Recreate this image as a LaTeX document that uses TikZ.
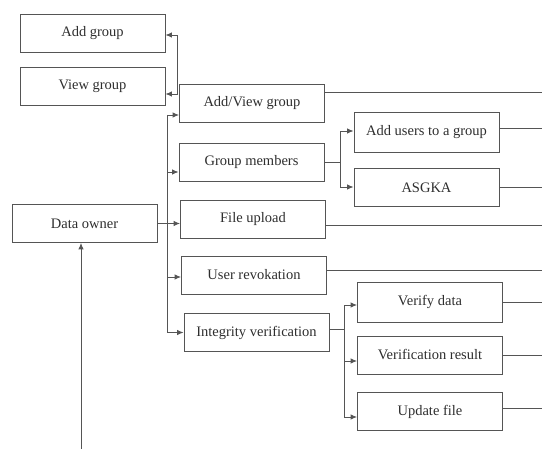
\documentclass[tikz,border=0pt]{standalone}
\usepackage{fontspec}
\setmainfont{Liberation Serif}
\usepackage{xcolor}
\usepackage{tikz}
\usetikzlibrary{calc,arrows.meta}
\definecolor{ink}{HTML}{2E2E2E}
\definecolor{rule}{HTML}{555555}
\tikzset{
  box/.style={draw=rule, line width=0.9pt, minimum width=145pt, minimum height=38pt,
    inner sep=2pt, text=ink, font=\fontsize{14.5}{16}\selectfont},
  link/.style={draw=rule, line width=0.9pt},
  feed/.style={-{Latex[length=6.5pt,width=5.5pt]}, draw=rule, line width=0.9pt}
}

\begin{document}
\begin{tikzpicture}[x=1pt,y=-1pt]
  \useasboundingbox (0,0) rectangle (542,449);
  \coordinate (trunk) at (167,0);
  \coordinate (edge) at (542,0);
  \coordinate (src) at (81,449);

  % left column
  \node[box] (ag) at (92.5,33) {Add group};
  \node[box] (vg) at (92.5,86.5) {View group};
  \node[box] (do) at (84.5,223.5) {Data owner};

  % middle column
  \node[box] (av) at (252,103) {Add/View group};
  \node[box] (gm) at (251.5,162) {Group members};
  \node[box] (fu) at (253,219.5) {File upload};
  \node[box] (ur) at (254,275) {User revokation};
  \node[box] (iv) at (256.5,332.5) {Integrity verification};

  % right column
  \node[box, minimum height=40pt] (au) at (426.5,132) {Add users to a group};
  \node[box] (as) at (426.5,187.5) {ASGKA};
  \node[box, minimum height=40pt] (vd) at (430,302) {Verify data};
  \node[box] (vr) at (430,355) {Verification result};
  \node[box] (uf) at (430,411.5) {Update file};

  % data owner into the trunk
  \draw[feed] (src) -- (src |- do.south);
  \draw[feed] (do.east) -- (do.east -| fu.west);
  \draw[link] ([yshift=-12pt]av.west -| trunk) -- (iv.west -| trunk);
  \foreach \n/\dy in {av/-12, gm/-10, ur/-2, iv/0}
    \draw[feed] ([yshift=\dy pt]\n.west -| trunk) -- ([yshift=\dy pt]\n.west);

  % add/view group back to the left boxes
  \draw[feed] ([xshift=-2pt]av.north west) |- ([yshift=-2pt]ag.east);
  \draw[feed] ([xshift=-2pt]av.north west) |- ([yshift=-7.5pt]vg.east);

  % forks
  \draw[link] (gm.east) -- ++(16,0) coordinate (gmf);
  \draw[feed] (gmf) |- ([yshift=1pt]au.west);
  \draw[feed] (gmf) |- ([yshift=0.5pt]as.west);
  \draw[link] ([yshift=3.5pt]iv.east) -- ++(15,0) coordinate (ivf);
  \draw[feed] (ivf) |- ([yshift=-3pt]vd.west);
  \draw[feed] (ivf) |- ([yshift=-6pt]vr.west);
  \draw[feed] (ivf) |- ([yshift=-5.5pt]uf.west);

  % lines running out to the right
  \foreach \n/\dy in {av/11, au/4, as/0.5, fu/-5.5, ur/5, vd/0, vr/0, uf/3.5}
    \draw[link] ([yshift=\dy pt]\n.east) -- ([yshift=\dy pt]\n.east -| edge);
\end{tikzpicture}
\end{document}
